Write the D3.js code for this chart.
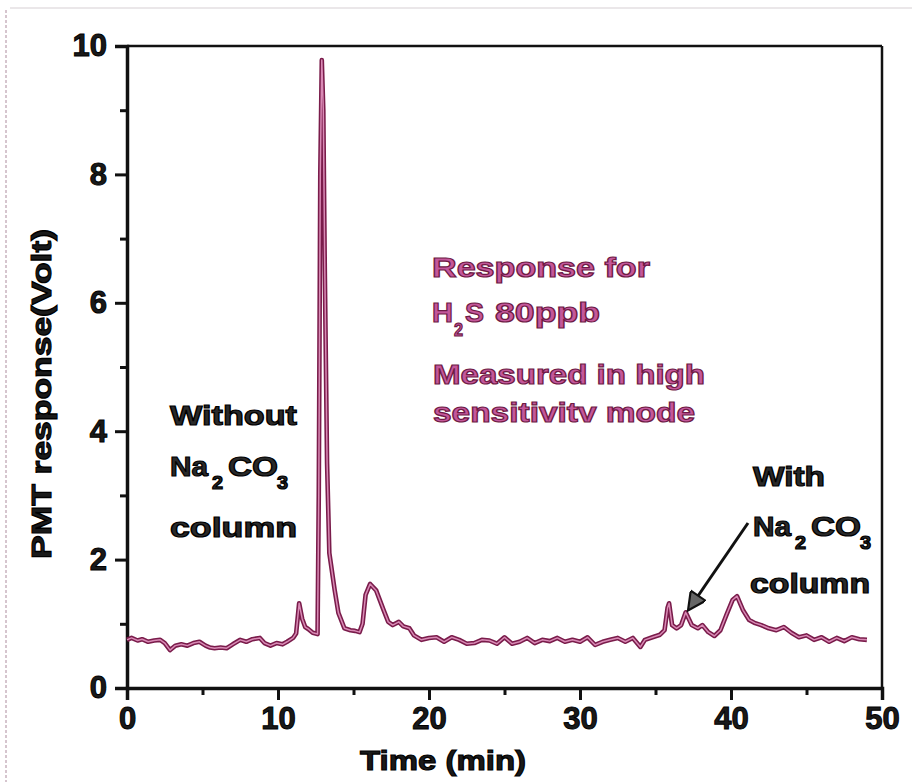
<!DOCTYPE html>
<html><head><meta charset="utf-8">
<script src="https://cdn.jsdelivr.net/npm/d3@7"></script>
<style>
html,body{margin:0;padding:0;background:#fff;}
svg{display:block;font-family:"Liberation Sans",Arial,sans-serif;font-weight:bold;}
</style></head>
<body>
<svg id="c" width="912" height="782"></svg>
<script>
// ---- data ----
const timeMin = [0,0.3,0.7,1.0,1.4,1.8,2.2,2.5,2.85,3.2,3.6,4.0,4.4,4.8,5.2,5.5,5.8,6.2,6.6,7.0,7.5,7.9,8.3,8.8,9.1,9.5,9.9,10.3,10.6,11.0,11.2,11.4,11.6,11.8,12.0,12.3,12.62,12.7,12.8,12.9,13.0,13.1,13.25,13.4,13.75,14.0,14.4,14.8,15.1,15.4,15.6,15.8,16.1,16.5,17.0,17.3,17.6,18.0,18.3,18.7,19.0,19.5,20.0,20.5,21.0,21.5,22.0,22.5,23.0,23.5,24.0,24.5,25.0,25.5,26.0,26.5,27.0,27.5,28.0,28.5,29.0,29.5,30.0,30.5,31.0,31.5,32.0,32.5,33.0,33.5,34.0,34.3,34.8,35.3,35.6,35.8,35.9,36.1,36.4,36.7,37.0,37.4,37.8,38.1,38.5,38.9,39.3,39.7,40.1,40.4,40.8,41.2,41.6,42.0,42.5,43.0,43.5,44.0,44.5,45.0,45.5,46.0,46.5,47.0,47.5,48.0,48.5,49.0];
const pmtVolt = [0.75,0.78,0.74,0.76,0.72,0.74,0.75,0.70,0.59,0.66,0.68,0.66,0.70,0.72,0.66,0.63,0.62,0.63,0.62,0.68,0.75,0.72,0.76,0.78,0.70,0.66,0.70,0.68,0.72,0.78,0.85,1.32,1.08,0.95,0.92,0.86,0.84,3.0,8.0,9.78,9.0,6.5,3.5,2.1,1.53,1.17,0.93,0.90,0.89,0.87,1.0,1.45,1.62,1.52,1.21,1.03,0.98,1.03,0.96,0.93,0.82,0.75,0.78,0.79,0.72,0.79,0.75,0.69,0.70,0.75,0.74,0.69,0.79,0.69,0.72,0.78,0.70,0.75,0.73,0.78,0.72,0.75,0.72,0.79,0.67,0.72,0.75,0.78,0.72,0.78,0.64,0.75,0.79,0.83,0.90,1.25,1.32,0.98,0.93,0.98,1.18,0.98,0.93,0.98,0.87,0.81,0.90,1.14,1.37,1.43,1.21,1.06,1.01,0.98,0.93,0.90,0.95,0.86,0.79,0.82,0.75,0.79,0.72,0.78,0.73,0.79,0.76,0.75];
const xTicks = [0,10,20,30,40,50];
const xMinorTicks = [5,15,25,35,45];
const yTicks = [0,2,4,6,8,10];
const yMinorTicks = [1,3,5,7,9];
const xTitle = "Time (min)";
const yTitle = "PMT response(Volt)";

const svg = d3.select("#c");
const x = d3.scaleLinear().domain([0,50]).range([127,882]);
const y = d3.scaleLinear().domain([0,10]).range([688,46]);

// faint scan edges
svg.append("line").attr("x1",6).attr("x2",6).attr("y1",10).attr("y2",782)
  .attr("stroke","#c9b3bf").attr("stroke-width",1.5).attr("stroke-dasharray","3,2");
svg.append("line").attr("x1",10).attr("x2",912).attr("y1",8).attr("y2",8)
  .attr("stroke","#d6cfd3").attr("stroke-width",1);

// frame (top, right)
svg.append("line").attr("x1",x(0)).attr("x2",x(50)).attr("y1",y(10)).attr("y2",y(10))
  .attr("stroke","#111").attr("stroke-width",2.5);
svg.append("line").attr("x1",x(50)).attr("x2",x(50)).attr("y1",y(10)).attr("y2",y(0))
  .attr("stroke","#111").attr("stroke-width",2.5);

const tickFont = "'Liberation Sans',Arial,sans-serif";
// axes
const xAxis = d3.axisBottom(x).tickValues(xTicks).tickSize(12).tickPadding(6).tickFormat(d3.format("d"));
const gx = svg.append("g").attr("transform",`translate(0,${y(0)})`).call(xAxis);
gx.select(".domain").attr("stroke","#111").attr("stroke-width",3.5);
gx.selectAll(".tick line").attr("stroke","#111").attr("stroke-width",3);
gx.selectAll(".tick text").attr("fill","#1a1a1a").attr("stroke","#000").attr("stroke-width",1)
  .attr("font-size",31).attr("font-weight","bold")
  .attr("font-family",tickFont).attr("dy","0.75em");
const gxm = svg.append("g").attr("transform",`translate(0,${y(0)})`)
  .call(d3.axisBottom(x).tickValues(xMinorTicks).tickSize(7).tickFormat(""));
gxm.select(".domain").remove();
gxm.selectAll(".tick line").attr("stroke","#111").attr("stroke-width",3);

const yAxis = d3.axisLeft(y).tickValues(yTicks).tickSize(12).tickPadding(8).tickFormat(d3.format("d"));
const gy = svg.append("g").attr("transform",`translate(${x(0)},0)`).call(yAxis);
gy.select(".domain").attr("stroke","#111").attr("stroke-width",3.5);
gy.selectAll(".tick line").attr("stroke","#111").attr("stroke-width",3);
gy.selectAll(".tick text").attr("fill","#1a1a1a").attr("stroke","#000").attr("stroke-width",1)
  .attr("font-size",31).attr("font-weight","bold")
  .attr("font-family",tickFont);
const gym = svg.append("g").attr("transform",`translate(${x(0)},0)`)
  .call(d3.axisLeft(y).tickValues(yMinorTicks).tickSize(7).tickFormat(""));
gym.select(".domain").remove();
gym.selectAll(".tick line").attr("stroke","#111").attr("stroke-width",3);

// axis titles
svg.append("text").attr("x",443).attr("y",770).attr("text-anchor","middle")
  .attr("font-size",28).attr("fill","#1a1a1a").attr("stroke","#000").attr("stroke-width",1.1)
  .attr("textLength",166).attr("lengthAdjust","spacingAndGlyphs")
  .text(xTitle);
svg.append("text").attr("transform","translate(51,394) rotate(-90)").attr("text-anchor","middle")
  .attr("font-size",27).attr("fill","#1a1a1a").attr("stroke","#000").attr("stroke-width",1.1)
  .attr("textLength",330).attr("lengthAdjust","spacingAndGlyphs")
  .text(yTitle);

// line
const pts = timeMin.map((t,i)=>[t,pmtVolt[i]]);
const line = d3.line().x(d=>x(d[0])).y(d=>y(d[1])).curve(d3.curveLinear);
svg.append("path").datum(pts).attr("d",line).attr("fill","none")
  .attr("stroke","#7a1c4b").attr("stroke-width",4.6).attr("stroke-linejoin","round");
svg.append("path").datum(pts).attr("d",line).attr("fill","none")
  .attr("stroke","#d98ab5").attr("stroke-width",1.5).attr("stroke-linejoin","round");

// annotations
function label(xp, yp, txt, len, opts={}){
  const t = svg.append("text").attr("x",xp).attr("y",yp)
    .attr("font-size",opts.size||28)
    .attr("fill",opts.fill||"#2a2a2a")
    .attr("stroke",opts.stroke||"#000").attr("stroke-width",opts.sw||1.2)
    .text(txt);
  if(len) t.attr("textLength",len).attr("lengthAdjust","spacingAndGlyphs");
  return t;
}
const pink = {fill:"#c4579a",stroke:"#6e1a45",sw:1.2};
label(432,277,"Response for",218,pink);
label(432,322,"H",21,pink);
label(454,336,"2",9,Object.assign({size:18},pink));
label(465,322,"S",19,pink);
label(495,322,"80ppb",105,pink);
label(433,384,"Measured in high",272,pink);
label(433,422,"sensitivitv mode",262,pink);

label(170,425,"Without",127);
label(170,476,"Na",38);
label(212,489,"2",11,{size:18});
label(228,476,"CO",50);
label(277,489,"3",11,{size:18});
label(170,537,"column",127);

label(753,486,"With",72);
label(753,536,"Na",38);
label(795,549,"2",11,{size:18});
label(811,536,"CO",50);
label(860,549,"3",11,{size:18});
label(750,593,"column",120);

// arrow
svg.append("defs").append("marker").attr("id","ah").attr("viewBox","0 0 10 10")
  .attr("refX",9).attr("refY",5).attr("markerWidth",8).attr("markerHeight",6)
  .attr("markerUnits","strokeWidth").attr("orient","auto")
  .append("path").attr("d","M0,0 L10,5 L0,10 z").attr("fill","#666").attr("stroke","#111").attr("stroke-width",1.2);
svg.append("line").attr("x1",748).attr("y1",523).attr("x2",689).attr("y2",609)
  .attr("stroke","#111").attr("stroke-width",3).attr("marker-end","url(#ah)");
</script>
</body></html>
